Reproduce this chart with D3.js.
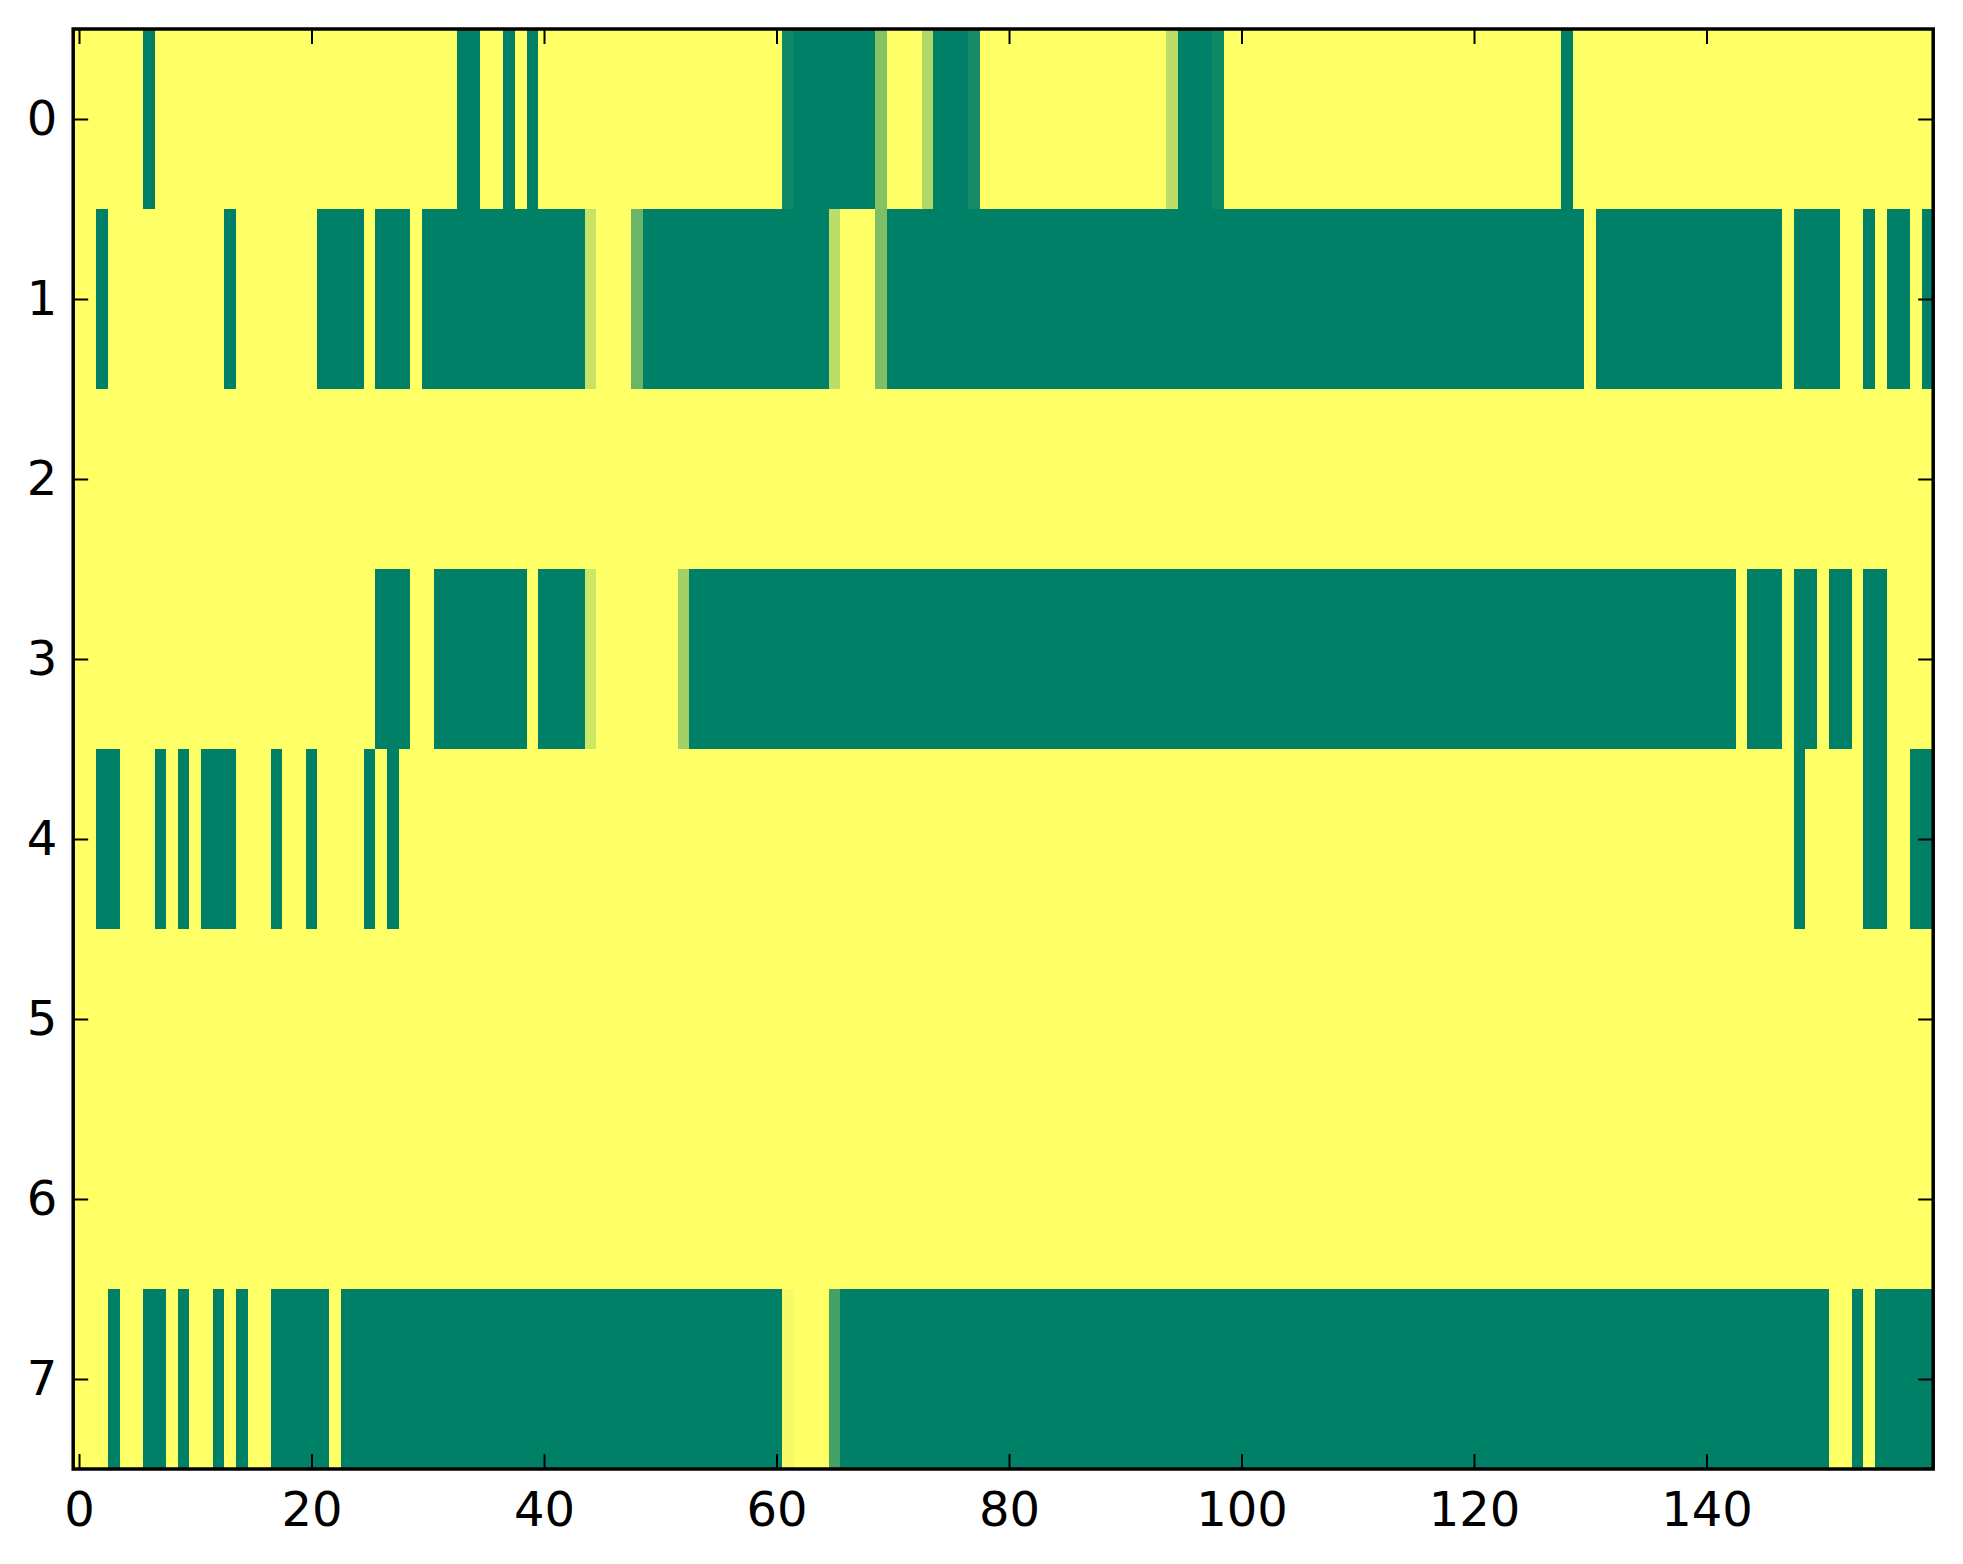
<!DOCTYPE html>
<html>
<head>
<meta charset="utf-8">
<script src="https://d3js.org/d3.v7.min.js"></script>
<style>
  html, body { margin: 0; padding: 0; background: #fff; }
  svg text { font-family: "DejaVu Sans", sans-serif; }
</style>
</head>
<body>
<div id="chart"></div>
<script>
// one array per image row, 160 columns each (0 = green, 1 = yellow)
const row0 = [
  1,1,1,1,1,1,0,1,1,1, 1,1,1,1,1,1,1,1,1,1,
  1,1,1,1,1,1,1,1,1,1, 1,1,1,0,0,1,1,0,1,0,
  1,1,1,1,1,1,1,1,1,1, 1,1,1,1,1,1,1,1,1,1,
  1,0.06,0,0,0,0,0,0,0,0.52, 1,1,1,0.69,0,0,0,0.09,1,1,
  1,1,1,1,1,1,1,1,1,1, 1,1,1,1,0.74,0,0,0,0.06,1,
  1,1,1,1,1,1,1,1,1,1, 1,1,1,1,1,1,1,1,1,1,
  1,1,1,1,1,1,1,1,0,1, 1,1,1,1,1,1,1,1,1,1,
  1,1,1,1,1,1,1,1,1,1, 1,1,1,1,1,1,1,1,1,1
];
const row1 = [
  1,1,0,1,1,1,1,1,1,1, 1,1,1,0,1,1,1,1,1,1,
  1,0,0,0,0,1,0,0,0,1, 0,0,0,0,0,0,0,0,0,0,
  0,0,0,0,0.78,1,1,1,0.42,0, 0,0,0,0,0,0,0,0,0,0,
  0,0,0,0,0,0.74,1,1,1,0.49, 0,0,0,0,0,0,0,0,0,0,
  0,0,0,0,0,0,0,0,0,0, 0,0,0,0,0,0,0,0,0,0,
  0,0,0,0,0,0,0,0,0,0, 0,0,0,0,0,0,0,0,0,0,
  0,0,0,0,0,0,0,0,0,0, 1,0,0,0,0,0,0,0,0,0,
  0,0,0,0,0,0,0,1,0,0, 0,0,1,1,0,1,0,0,1,0
];
const row2 = [
  1,1,1,1,1,1,1,1,1,1, 1,1,1,1,1,1,1,1,1,1,
  1,1,1,1,1,1,1,1,1,1, 1,1,1,1,1,1,1,1,1,1,
  1,1,1,1,1,1,1,1,1,1, 1,1,1,1,1,1,1,1,1,1,
  1,1,1,1,1,1,1,1,1,1, 1,1,1,1,1,1,1,1,1,1,
  1,1,1,1,1,1,1,1,1,1, 1,1,1,1,1,1,1,1,1,1,
  1,1,1,1,1,1,1,1,1,1, 1,1,1,1,1,1,1,1,1,1,
  1,1,1,1,1,1,1,1,1,1, 1,1,1,1,1,1,1,1,1,1,
  1,1,1,1,1,1,1,1,1,1, 1,1,1,1,1,1,1,1,1,1
];
const row3 = [
  1,1,1,1,1,1,1,1,1,1, 1,1,1,1,1,1,1,1,1,1,
  1,1,1,1,1,1,0,0,0,1, 1,0,0,0,0,0,0,0,0,1,
  0,0,0,0,0.8,1,1,1,1,1, 1,1,0.63,0,0,0,0,0,0,0,
  0,0,0,0,0,0,0,0,0,0, 0,0,0,0,0,0,0,0,0,0,
  0,0,0,0,0,0,0,0,0,0, 0,0,0,0,0,0,0,0,0,0,
  0,0,0,0,0,0,0,0,0,0, 0,0,0,0,0,0,0,0,0,0,
  0,0,0,0,0,0,0,0,0,0, 0,0,0,0,0,0,0,0,0,0,
  0,0,0,1,0,0,0,1,0,0, 1,0,0,1,0,0,1,1,1,1
];
const row4 = [
  1,1,0,0,1,1,1,0,1,0, 1,0,0,0,1,1,1,0,1,1,
  0,1,1,1,1,0,1,0,1,1, 1,1,1,1,1,1,1,1,1,1,
  1,1,1,1,1,1,1,1,1,1, 1,1,1,1,1,1,1,1,1,1,
  1,1,1,1,1,1,1,1,1,1, 1,1,1,1,1,1,1,1,1,1,
  1,1,1,1,1,1,1,1,1,1, 1,1,1,1,1,1,1,1,1,1,
  1,1,1,1,1,1,1,1,1,1, 1,1,1,1,1,1,1,1,1,1,
  1,1,1,1,1,1,1,1,1,1, 1,1,1,1,1,1,1,1,1,1,
  1,1,1,1,1,1,1,1,0,1, 1,1,1,1,0,0,1,1,0,0
];
const row5 = [
  1,1,1,1,1,1,1,1,1,1, 1,1,1,1,1,1,1,1,1,1,
  1,1,1,1,1,1,1,1,1,1, 1,1,1,1,1,1,1,1,1,1,
  1,1,1,1,1,1,1,1,1,1, 1,1,1,1,1,1,1,1,1,1,
  1,1,1,1,1,1,1,1,1,1, 1,1,1,1,1,1,1,1,1,1,
  1,1,1,1,1,1,1,1,1,1, 1,1,1,1,1,1,1,1,1,1,
  1,1,1,1,1,1,1,1,1,1, 1,1,1,1,1,1,1,1,1,1,
  1,1,1,1,1,1,1,1,1,1, 1,1,1,1,1,1,1,1,1,1,
  1,1,1,1,1,1,1,1,1,1, 1,1,1,1,1,1,1,1,1,1
];
const row6 = [
  1,1,1,1,1,1,1,1,1,1, 1,1,1,1,1,1,1,1,1,1,
  1,1,1,1,1,1,1,1,1,1, 1,1,1,1,1,1,1,1,1,1,
  1,1,1,1,1,1,1,1,1,1, 1,1,1,1,1,1,1,1,1,1,
  1,1,1,1,1,1,1,1,1,1, 1,1,1,1,1,1,1,1,1,1,
  1,1,1,1,1,1,1,1,1,1, 1,1,1,1,1,1,1,1,1,1,
  1,1,1,1,1,1,1,1,1,1, 1,1,1,1,1,1,1,1,1,1,
  1,1,1,1,1,1,1,1,1,1, 1,1,1,1,1,1,1,1,1,1,
  1,1,1,1,1,1,1,1,1,1, 1,1,1,1,1,1,1,1,1,1
];
const row7 = [
  1,1,1,0,1,1,0,0,1,0, 1,1,0,1,0,1,1,0,0,0,
  0,0,1,0,0,0,0,0,0,0, 0,0,0,0,0,0,0,0,0,0,
  0,0,0,0,0,0,0,0,0,0, 0,0,0,0,0,0,0,0,0,0,
  0,0.96,1,1,1,0.27,0,0,0,0, 0,0,0,0,0,0,0,0,0,0,
  0,0,0,0,0,0,0,0,0,0, 0,0,0,0,0,0,0,0,0,0,
  0,0,0,0,0,0,0,0,0,0, 0,0,0,0,0,0,0,0,0,0,
  0,0,0,0,0,0,0,0,0,0, 0,0,0,0,0,0,0,0,0,0,
  0,0,0,0,0,0,0,0,0,0, 0,1,1,0,1,0,0,0,0,0
];
const rows = [row0, row1, row2, row3, row4, row5, row6, row7];

const xTicks = [0, 20, 40, 60, 80, 100, 120, 140];
const yTicks = [0, 1, 2, 3, 4, 5, 6, 7];

const width = 1963;
const height = 1564;
const plotLeft = 73.2, plotRight = 1933.2, plotTop = 29, plotBottom = 1469;
const nCols = row0.length;

const svg = d3.select("#chart")
  .append("svg")
  .attr("width", width)
  .attr("height", height);

svg.append("rect")
  .attr("width", width)
  .attr("height", height)
  .attr("fill", "#fff");

const x = d3.scaleLinear().domain([-0.5, nCols - 0.5]).range([plotLeft, plotRight]);
const y = d3.scaleLinear().domain([-0.5, rows.length - 0.5]).range([plotTop, plotBottom]);

// matplotlib "summer": (v, 0.5 + 0.5v, 0.4)
const color = d3.scaleLinear().domain([0, 1]).range(["#008066", "#ffff66"]);

// cells
const cells = [];
rows.forEach((r, ri) => r.forEach((v, ci) => cells.push({ r: ri, c: ci, v: v })));

svg.append("g")
  .selectAll("rect")
  .data(cells)
  .enter()
  .append("rect")
  .attr("x", (d) => x(d.c - 0.5))
  .attr("y", (d) => y(d.r - 0.5))
  .attr("width", (d) => x(d.c + 0.5) - x(d.c - 0.5) + 0.3)
  .attr("height", (d) => y(d.r + 0.5) - y(d.r - 0.5) + 0.3)
  .attr("fill", (d) => color(d.v))
  .attr("shape-rendering", "crispEdges");

// axes, ticks pointing inward
const tickLen = 15;

function styleAxis(g, fontSize) {
  g.select(".domain").remove();
  g.selectAll(".tick line").attr("stroke", "#000").attr("stroke-width", 2);
  g.selectAll(".tick text")
    .attr("fill", "#000")
    .style("font-size", fontSize + "px")
    .style("font-family", "'DejaVu Sans', sans-serif");
}

svg.append("g")
  .attr("transform", `translate(0,${plotBottom})`)
  .call(d3.axisBottom(x).tickValues(xTicks).tickSizeInner(-tickLen).tickSizeOuter(0).tickPadding(23))
  .call((g) => styleAxis(g, 48));

svg.append("g")
  .attr("transform", `translate(0,${plotTop})`)
  .call(d3.axisTop(x).tickValues(xTicks).tickSizeInner(-tickLen).tickSizeOuter(0).tickFormat(""))
  .call((g) => styleAxis(g, 48));

svg.append("g")
  .attr("transform", `translate(${plotLeft},0)`)
  .call(d3.axisLeft(y).tickValues(yTicks).tickSizeInner(-tickLen).tickSizeOuter(0).tickPadding(16))
  .call((g) => styleAxis(g, 48));

svg.append("g")
  .attr("transform", `translate(${plotRight},0)`)
  .call(d3.axisRight(y).tickValues(yTicks).tickSizeInner(-tickLen).tickSizeOuter(0).tickFormat(""))
  .call((g) => styleAxis(g, 48));

// frame
svg.append("rect")
  .attr("x", plotLeft)
  .attr("y", plotTop)
  .attr("width", plotRight - plotLeft)
  .attr("height", plotBottom - plotTop)
  .attr("fill", "none")
  .attr("stroke", "#000")
  .attr("stroke-width", 3.5);
</script>
</body>
</html>
